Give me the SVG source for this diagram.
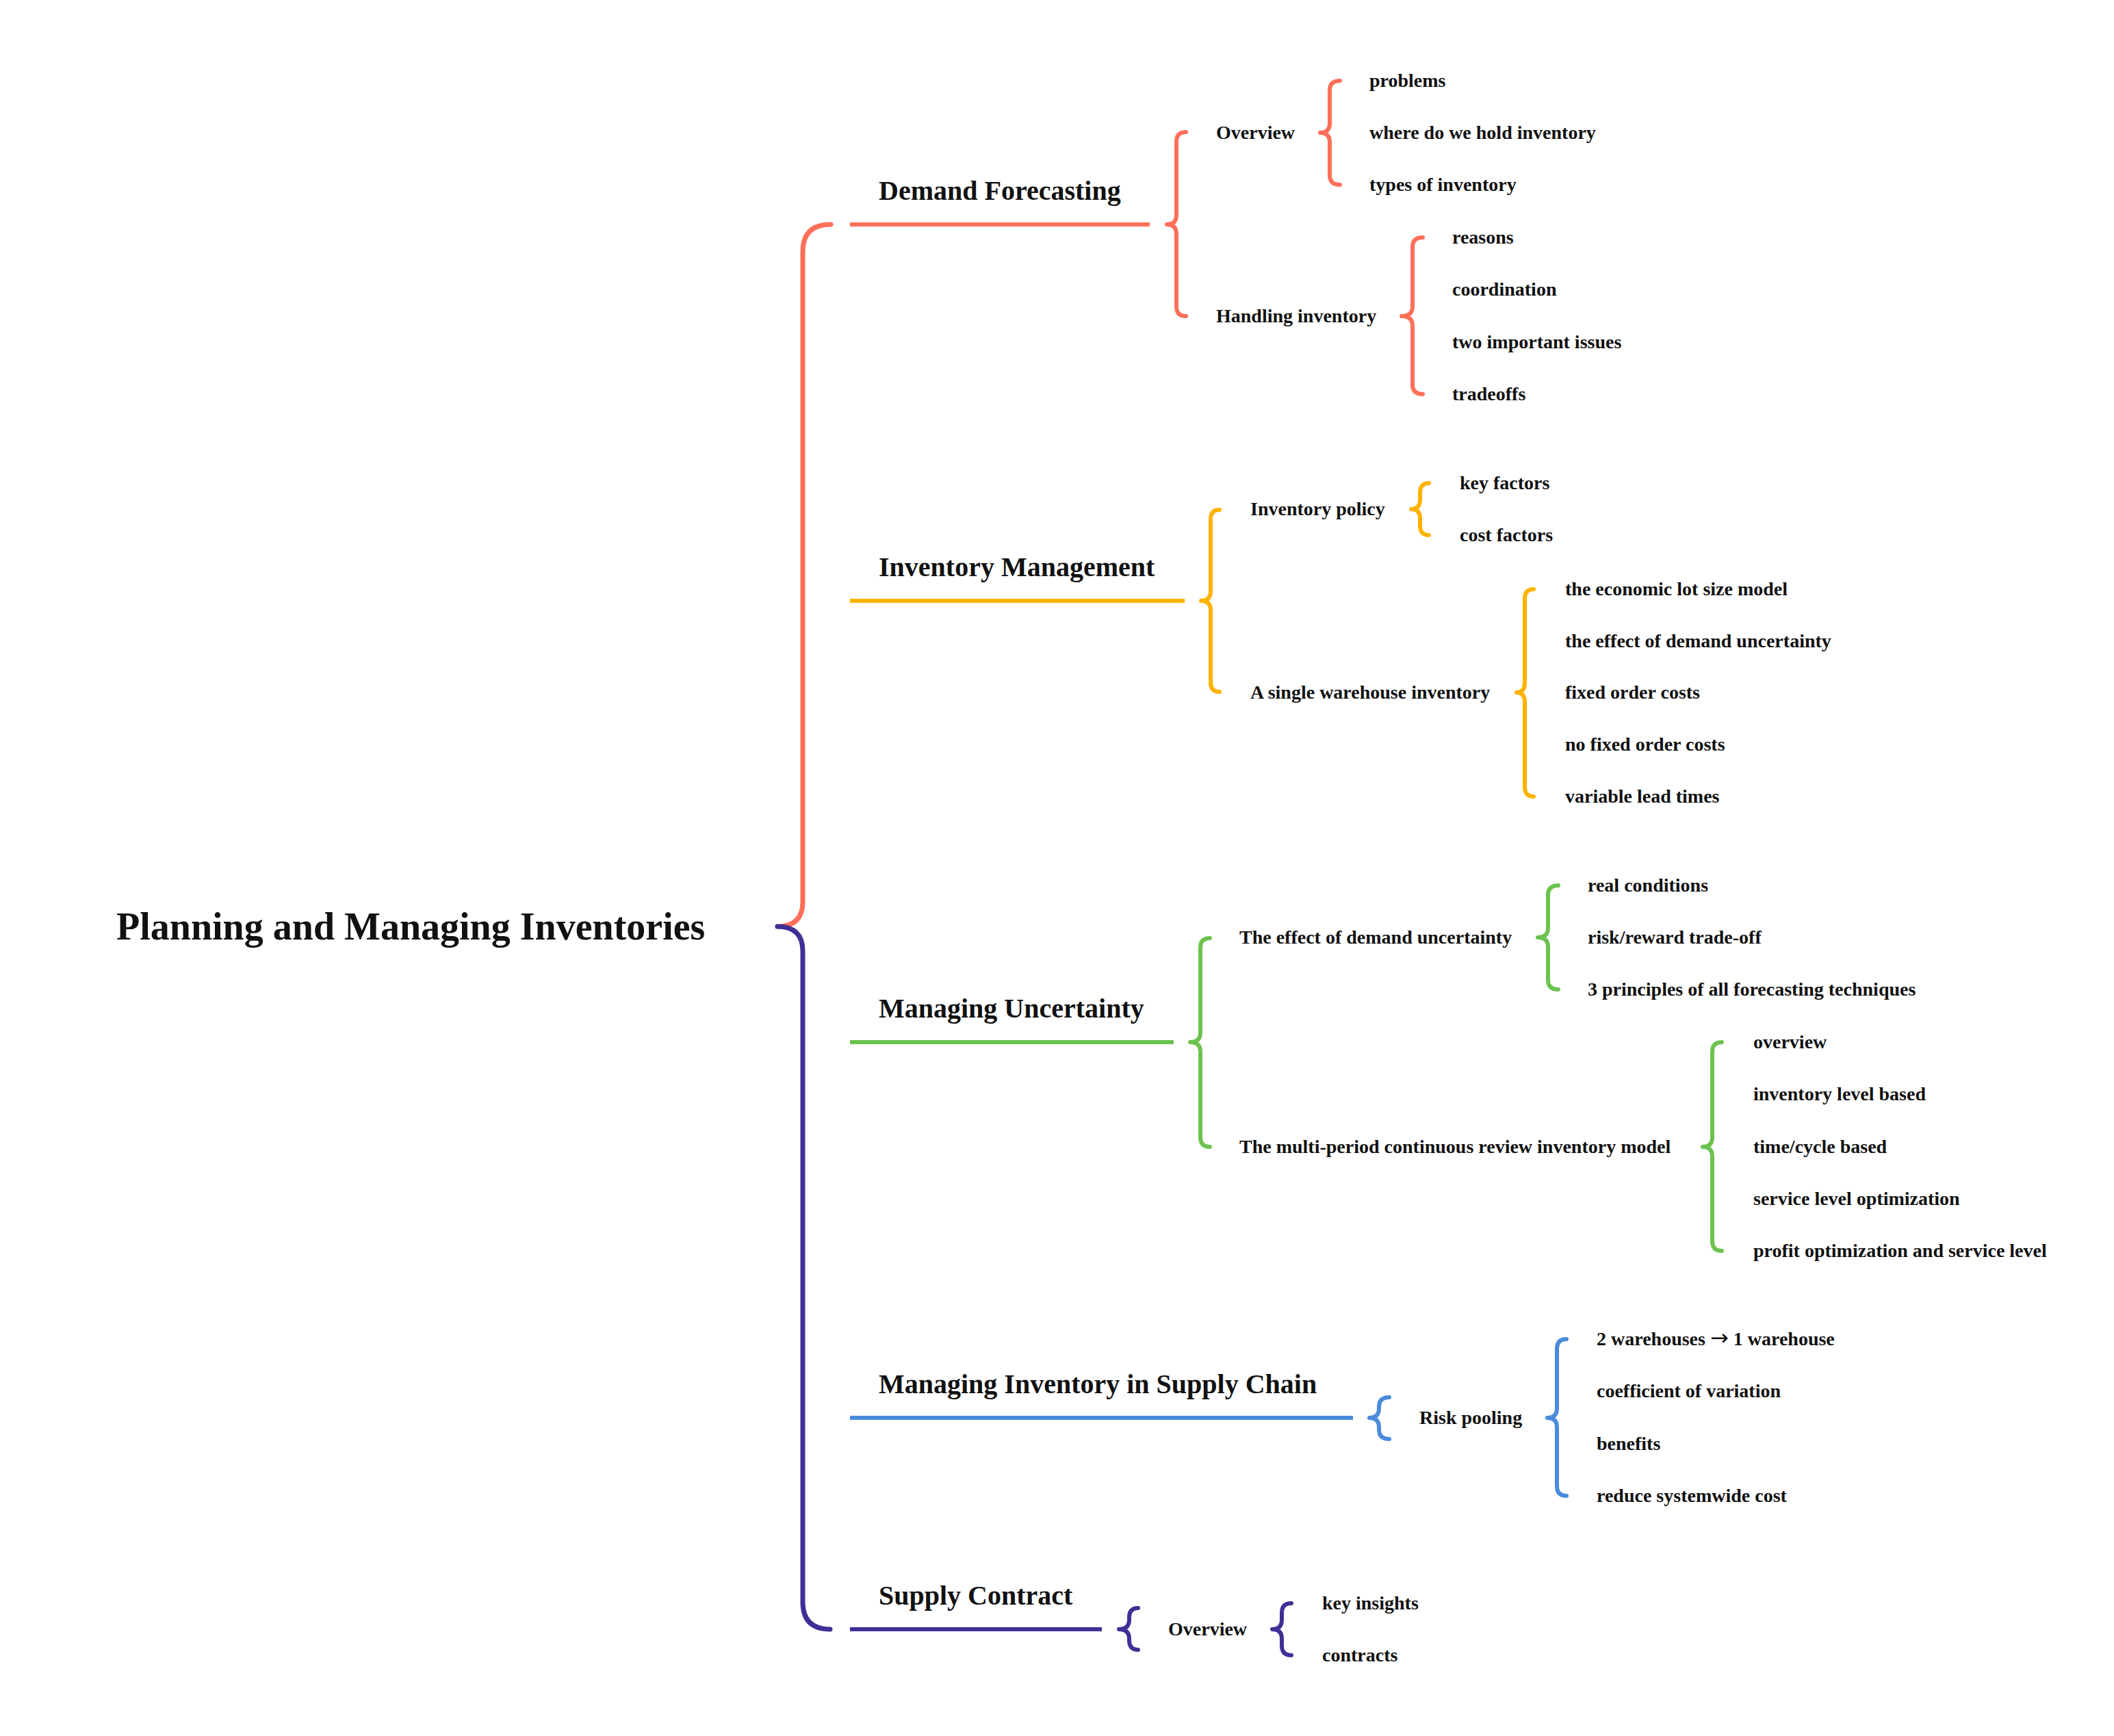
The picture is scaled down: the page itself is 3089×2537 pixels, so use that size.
<svg xmlns="http://www.w3.org/2000/svg" width="3089" height="2537" viewBox="0 0 3089 2537">
<style>
text{font-family:"Liberation Serif","Times New Roman",serif;font-weight:bold;fill:#111}
.root{font-size:56px}
.l1{font-size:40px}
.l2{font-size:28px}
.arr{font-family:"DejaVu Sans",sans-serif;font-weight:normal;font-size:32px}
.c{fill:none;stroke-width:6;stroke-linecap:round;stroke-linejoin:round}
.u{stroke-width:6;stroke-linecap:butt}
.or{stroke:#FF6F59}.ye{stroke:#FFB300}.gr{stroke:#6CC24F}.bl{stroke:#4A8BDC}.pu{stroke:#3F3096}
</style>
<rect width="3089" height="2537" fill="#fff"/>
<g id="connectors">
<path class="c or" style="stroke-width:7" d="M1214 328 Q1173 328 1173 368 L1173 1318 Q1173 1354 1136 1354"/>
<path class="c pu" style="stroke-width:7" d="M1136 1354 Q1173 1354 1173 1390 L1173 2341 Q1173 2381 1213 2381"/>
<line class="u or" x1="1242" y1="328" x2="1680" y2="328"/>
<line class="u ye" x1="1242" y1="878" x2="1731" y2="878"/>
<line class="u gr" x1="1242" y1="1523" x2="1715" y2="1523"/>
<line class="u bl" x1="1242" y1="2072" x2="1977" y2="2072"/>
<line class="u pu" x1="1242" y1="2381" x2="1610" y2="2381"/>
<path class="c or" d="M1733 193 Q1719 193 1719 207 L1719 314 Q1719 328 1705 328 Q1719 328 1719 342 L1719 448 Q1719 462 1733 462"/>
<path class="c ye" d="M1782 745 Q1769 745 1769 759 L1769 864 Q1769 878 1755 878 Q1769 878 1769 892 L1769 997 Q1769 1011 1782 1011"/>
<path class="c gr" d="M1768 1371 Q1754 1371 1754 1385 L1754 1509 Q1754 1523 1739 1523 Q1754 1523 1754 1537 L1754 1662 Q1754 1676 1768 1676"/>
<path class="c bl" d="M2030 2042 Q2015 2042 2015 2056 L2015 2058 Q2015 2072 2001 2072 Q2015 2072 2015 2086 L2015 2089 Q2015 2103 2030 2103"/>
<path class="c pu" d="M1663 2350 Q1650 2350 1650 2364 L1650 2367 Q1650 2381 1635 2381 Q1650 2381 1650 2395 L1650 2397 Q1650 2411 1663 2411"/>
<path class="c or" d="M1958 118 Q1943 118 1943 132 L1943 180 Q1943 194 1929 194 Q1943 194 1943 208 L1943 256 Q1943 270 1958 270"/>
<path class="c or" d="M2079 347 Q2064 347 2064 361 L2064 448 Q2064 462 2048 462 Q2064 462 2064 476 L2064 562 Q2064 576 2079 576"/>
<path class="c ye" d="M2088 706 Q2075 706 2075 720 L2075 730 Q2075 744 2062 744 Q2075 744 2075 758 L2075 768 Q2075 782 2088 782"/>
<path class="c ye" d="M2241 861 Q2228 861 2228 875 L2228 998 Q2228 1012 2216 1012 Q2228 1012 2228 1026 L2228 1150 Q2228 1164 2241 1164"/>
<path class="c gr" d="M2277 1294 Q2262 1294 2262 1308 L2262 1356 Q2262 1370 2247 1370 Q2262 1370 2262 1384 L2262 1432 Q2262 1446 2277 1446"/>
<path class="c gr" d="M2516 1523 Q2502 1523 2502 1537 L2502 1662 Q2502 1676 2488 1676 Q2502 1676 2502 1690 L2502 1814 Q2502 1828 2516 1828"/>
<path class="c bl" d="M2289 1957 Q2275 1957 2275 1971 L2275 2058 Q2275 2072 2261 2072 Q2275 2072 2275 2086 L2275 2172 Q2275 2186 2289 2186"/>
<path class="c pu" d="M1887 2343 Q1873 2343 1873 2357 L1873 2367 Q1873 2381 1859 2381 Q1873 2381 1873 2395 L1873 2405 Q1873 2419 1887 2419"/>
</g>
<g id="root"><text class="root" x="170" y="1373">Planning and Managing Inventories</text></g>
<g id="demand-forecasting"><text class="l1" x="1284" y="292">Demand Forecasting</text></g>
<g id="inventory-management"><text class="l1" x="1284" y="842">Inventory Management</text></g>
<g id="managing-uncertainty"><text class="l1" x="1284" y="1487">Managing Uncertainty</text></g>
<g id="managing-inventory-supply-chain"><text class="l1" x="1284" y="2036">Managing Inventory in Supply Chain</text></g>
<g id="supply-contract"><text class="l1" x="1284" y="2345">Supply Contract</text></g>
<g id="df-overview"><text class="l2" x="1777" y="203">Overview</text></g>
<g id="df-overview-children">
<text class="l2" x="2001" y="127">problems</text>
<text class="l2" x="2001" y="203">where do we hold inventory</text>
<text class="l2" x="2001" y="279">types of inventory</text>
</g>
<g id="df-handling"><text class="l2" x="1777" y="471">Handling inventory</text></g>
<g id="df-handling-children">
<text class="l2" x="2122" y="356">reasons</text>
<text class="l2" x="2122" y="432">coordination</text>
<text class="l2" x="2122" y="509">two important issues</text>
<text class="l2" x="2122" y="585">tradeoffs</text>
</g>
<g id="im-policy"><text class="l2" x="1827" y="753">Inventory policy</text></g>
<g id="im-policy-children">
<text class="l2" x="2133" y="715">key factors</text>
<text class="l2" x="2133" y="791">cost factors</text>
</g>
<g id="im-single"><text class="l2" x="1827" y="1021">A single warehouse inventory</text></g>
<g id="im-single-children">
<text class="l2" x="2287" y="870">the economic lot size model</text>
<text class="l2" x="2287" y="946">the effect of demand uncertainty</text>
<text class="l2" x="2287" y="1021">fixed order costs</text>
<text class="l2" x="2287" y="1097">no fixed order costs</text>
<text class="l2" x="2287" y="1173">variable lead times</text>
</g>
<g id="mu-effect"><text class="l2" x="1811" y="1379">The effect of demand uncertainty</text></g>
<g id="mu-effect-children">
<text class="l2" x="2320" y="1303">real conditions</text>
<text class="l2" x="2320" y="1379">risk/reward trade-off</text>
<text class="l2" x="2320" y="1455">3 principles of all forecasting techniques</text>
</g>
<g id="mu-multi"><text class="l2" x="1811" y="1685">The multi-period continuous review inventory model</text></g>
<g id="mu-multi-children">
<text class="l2" x="2562" y="1532">overview</text>
<text class="l2" x="2562" y="1608">inventory level based</text>
<text class="l2" x="2562" y="1685">time/cycle based</text>
<text class="l2" x="2562" y="1761">service level optimization</text>
<text class="l2" x="2562" y="1837">profit optimization and service level</text>
</g>
<g id="misc-risk"><text class="l2" x="2074" y="2081">Risk pooling</text></g>
<g id="misc-risk-children">
<text class="l2" x="2333" y="1966">2 warehouses <tspan class="arr">→</tspan> 1 warehouse</text>
<text class="l2" x="2333" y="2042">coefficient of variation</text>
<text class="l2" x="2333" y="2119">benefits</text>
<text class="l2" x="2333" y="2195">reduce systemwide cost</text>
</g>
<g id="sc-overview"><text class="l2" x="1707" y="2390">Overview</text></g>
<g id="sc-overview-children">
<text class="l2" x="1932" y="2352">key insights</text>
<text class="l2" x="1932" y="2428">contracts</text>
</g>
</svg>
